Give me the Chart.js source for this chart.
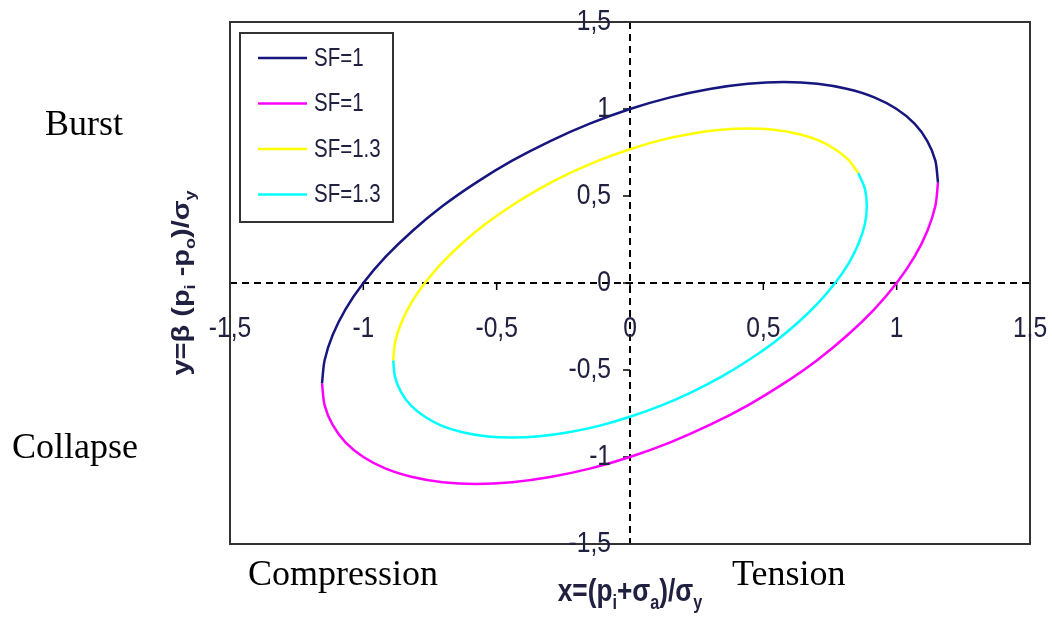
<!DOCTYPE html>
<html>
<head>
<meta charset="utf-8">
<script src="https://cdn.jsdelivr.net/npm/chart.js@4.4.1/dist/chart.umd.min.js"></script>
<style>
  html,body{margin:0;padding:0;background:#fff;}
  canvas{display:block;}
</style>
</head>
<body>
<canvas id="c" width="1052" height="617"></canvas>
<script>
// tick values and their printed labels (comma decimals as in the original)
const tickValues = [-1.5, -1, -0.5, 0, 0.5, 1, 1.5];
const tickLabels = ["-1,5", "-1", "-0,5", "0", "0,5", "1", "1,5"];

// curve points, [x, y]
const sf1Upper = [[-1.155,-0.577],[-1.145,-0.442],[-1.115,-0.299],[-1.067,-0.151],[-1,0],[-0.916,0.151],[-0.816,0.299],[-0.703,0.442],[-0.577,0.577],[-0.442,0.703],[-0.299,0.816],[-0.151,0.916],[0,1],[0.151,1.067],[0.299,1.115],[0.442,1.145],[0.577,1.155],[0.703,1.145],[0.816,1.115],[0.916,1.067],[1,1],[1.067,0.916],[1.115,0.816],[1.145,0.703],[1.155,0.577]];
const sf1Lower = [[1.155,0.577],[1.145,0.442],[1.115,0.299],[1.067,0.151],[1,0],[0.916,-0.151],[0.816,-0.299],[0.703,-0.442],[0.577,-0.577],[0.442,-0.703],[0.299,-0.816],[0.151,-0.916],[0,-1],[-0.151,-1.067],[-0.299,-1.115],[-0.442,-1.145],[-0.577,-1.155],[-0.703,-1.145],[-0.816,-1.115],[-0.916,-1.067],[-1,-1],[-1.067,-0.916],[-1.115,-0.816],[-1.145,-0.703],[-1.155,-0.577]];
const sf13Upper = [[-0.888,-0.444],[-0.881,-0.340],[-0.858,-0.230],[-0.821,-0.116],[-0.769,0],[-0.705,0.116],[-0.628,0.230],[-0.541,0.340],[-0.444,0.444],[-0.340,0.541],[-0.230,0.628],[-0.116,0.705],[0,0.769],[0.116,0.821],[0.230,0.858],[0.340,0.881],[0.444,0.888],[0.541,0.881],[0.628,0.858],[0.705,0.821],[0.769,0.769],[0.821,0.705],[0.856,0.632]];
const sf13Lower = [[0.856,0.632],[0.881,0.541],[0.888,0.444],[0.881,0.340],[0.858,0.230],[0.821,0.116],[0.769,0],[0.705,-0.116],[0.628,-0.230],[0.541,-0.340],[0.444,-0.444],[0.340,-0.541],[0.230,-0.628],[0.116,-0.705],[0,-0.769],[-0.116,-0.821],[-0.230,-0.858],[-0.340,-0.881],[-0.444,-0.888],[-0.541,-0.881],[-0.628,-0.858],[-0.705,-0.821],[-0.769,-0.769],[-0.821,-0.705],[-0.858,-0.628],[-0.881,-0.541],[-0.888,-0.444]];

const seriesLabels = ["SF=1", "SF=1", "SF=1.3", "SF=1.3"];
const seriesColors = ["#16167e", "#ff00ff", "#ffff00", "#00ffff"];

const SANS = '"Liberation Sans", Arial, sans-serif';
const SERIF = '"Liberation Serif", "Times New Roman", serif';
const TEXT = "#202040";
const SQUEEZE = 0.82; // the original figure is squashed horizontally

function pts(a){ return a.map(p=>({x:p[0], y:p[1]})); }

// text squeezed horizontally
function nText(ctx, t, x, y){
  ctx.save();
  ctx.translate(x, y);
  ctx.scale(SQUEEZE, 1);
  ctx.fillText(t, 0, 0);
  ctx.restore();
}

// text runs with subscripts, drawn from x=0 on the baseline
function runsWidth(ctx, runs, size){
  let w = 0;
  runs.forEach(r=>{
    ctx.font = "bold " + (r.sub ? size*0.62 : size) + "px " + SANS;
    w += ctx.measureText(r.t).width;
  });
  return w;
}
function drawRuns(ctx, runs, size){
  let x = 0;
  runs.forEach(r=>{
    const s = r.sub ? size*0.62 : size;
    ctx.font = "bold " + s + "px " + SANS;
    ctx.fillText(r.t, x, r.sub ? size*0.25 : 0);
    x += ctx.measureText(r.t).width;
  });
}

const decor = {
  id: "decor",
  beforeDatasetsDraw(chart){
    const {ctx, chartArea:a, scales:{x, y}} = chart;
    ctx.save();
    // dashed centre axes
    ctx.strokeStyle = "#000";
    ctx.lineWidth = 2;
    ctx.setLineDash([7, 5]);
    const x0 = x.getPixelForValue(0), y0 = y.getPixelForValue(0);
    ctx.beginPath();
    ctx.moveTo(a.left, y0); ctx.lineTo(a.right, y0);
    ctx.moveTo(x0, a.top); ctx.lineTo(x0, a.bottom);
    ctx.stroke();
    ctx.setLineDash([]);
    // small tick marks on the centre axes
    ctx.lineWidth = 1.5;
    ctx.beginPath();
    tickValues.forEach(v=>{
      const px = x.getPixelForValue(v);
      ctx.moveTo(px, y0); ctx.lineTo(px, y0 + 7);
      const py = y.getPixelForValue(v);
      ctx.moveTo(x0, py); ctx.lineTo(x0 - 7, py);
    });
    ctx.stroke();
    ctx.restore();
  },
  afterDraw(chart){
    const {ctx, chartArea:a, scales:{x, y}} = chart;
    ctx.save();
    // frame
    ctx.strokeStyle = "#333";
    ctx.lineWidth = 2;
    ctx.strokeRect(a.left, a.top, a.right - a.left, a.bottom - a.top);

    // tick labels along the centre axes
    const x0 = x.getPixelForValue(0), y0 = y.getPixelForValue(0);
    ctx.fillStyle = TEXT;
    ctx.font = "30px " + SANS;
    ctx.textAlign = "center";
    ctx.textBaseline = "middle";
    tickValues.forEach((v, i)=>{
      nText(ctx, tickLabels[i], x.getPixelForValue(v), y0 + 46);
    });
    ctx.textAlign = "right";
    tickValues.forEach((v, i)=>{
      nText(ctx, tickLabels[i], x0 - 19, y.getPixelForValue(v));
    });

    // legend box
    const lx = 240, ly = 33, lw = 153, lh = 189;
    ctx.fillStyle = "#fff";
    ctx.fillRect(lx, ly, lw, lh);
    ctx.strokeStyle = "#333";
    ctx.lineWidth = 2;
    ctx.strokeRect(lx, ly, lw, lh);
    ctx.font = "25px " + SANS;
    ctx.textAlign = "left";
    chart.data.datasets.forEach((ds, i)=>{
      const cy = 58 + i * 45.5;
      ctx.strokeStyle = ds.borderColor;
      ctx.lineWidth = 2.5;
      ctx.beginPath();
      ctx.moveTo(258, cy); ctx.lineTo(307, cy);
      ctx.stroke();
      ctx.fillStyle = TEXT;
      nText(ctx, ds.label, 314, cy + 1);
    });

    // axis titles
    ctx.fillStyle = TEXT;
    ctx.textBaseline = "alphabetic";
    ctx.textAlign = "left";
    const xRuns = [{t:"x=(p"},{t:"i",sub:1},{t:"+σ"},{t:"a",sub:1},{t:")/σ"},{t:"y",sub:1}];
    const xs = 32;
    ctx.save();
    ctx.translate((a.left + a.right)/2 - runsWidth(ctx, xRuns, xs)*SQUEEZE/2, 601);
    ctx.scale(SQUEEZE, 1);
    drawRuns(ctx, xRuns, xs);
    ctx.restore();

    const yRuns = [{t:"y=β (p"},{t:"i",sub:1},{t:" -p"},{t:"o",sub:1},{t:")/σ"},{t:"y",sub:1}];
    const ys = 29;
    ctx.save();
    ctx.translate(189, 283);
    ctx.rotate(-Math.PI/2);
    ctx.scale(1, SQUEEZE);
    ctx.translate(-runsWidth(ctx, yRuns, ys)/2, 0);
    drawRuns(ctx, yRuns, ys);
    ctx.restore();

    // region captions
    ctx.font = "36px " + SERIF;
    ctx.fillStyle = "#000";
    ctx.fillText("Burst", 45, 135);
    ctx.fillText("Collapse", 12, 458);
    ctx.fillText("Compression", 248, 585);
    ctx.fillText("Tension", 732, 585);
    ctx.restore();
  }
};

const datasets = [sf1Upper, sf1Lower, sf13Upper, sf13Lower].map((d, i)=>({
  label: seriesLabels[i],
  data: pts(d),
  borderColor: seriesColors[i],
  backgroundColor: seriesColors[i],
  borderWidth: 2.5,
  showLine: true,
  tension: 0.3,
  pointRadius: 0,
  fill: false
}));

new Chart(document.getElementById("c"), {
  type: "scatter",
  data: {datasets},
  options: {
    responsive: false,
    animation: false,
    layout: {padding: {left: 230, top: 22, right: 22, bottom: 73}},
    plugins: {legend: {display: false}, tooltip: {enabled: false}},
    scales: {
      x: {type: "linear", min: -1.5, max: 1.5, display: false},
      y: {type: "linear", min: -1.5, max: 1.5, display: false}
    }
  },
  plugins: [decor]
});
</script>
</body>
</html>
